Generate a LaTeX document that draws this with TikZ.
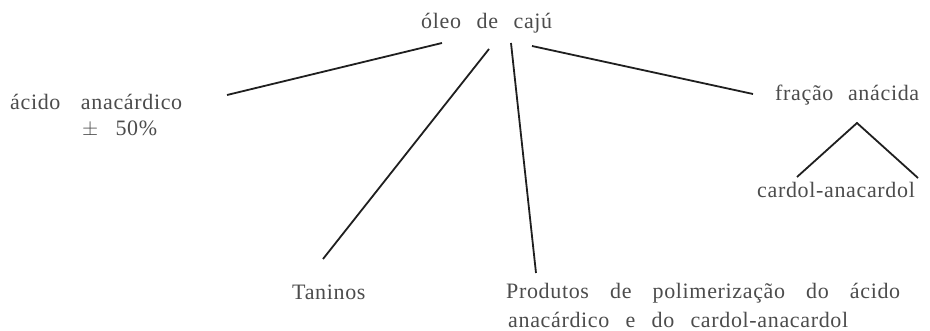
\documentclass[tikz,border=0pt]{standalone}
\usepackage{fontspec}
\setmainfont{Liberation Serif}[LetterSpace=3]
\begin{document}
\begin{tikzpicture}[x=1pt,y=-1pt,
  lbl/.style={inner sep=0pt, text=black!70, font=\fontsize{22}{26}\selectfont, anchor=base west},
  con/.style={draw=black!88, line width=1.8pt}]
\useasboundingbox[fill=white] (0,0) rectangle (930,331);
\node[lbl] (oleo) at (421,29) {\makebox[131pt][s]{óleo de cajú}};
\node[lbl] (acido) at (10,110) {\makebox[172pt][s]{ácido anacárdico}};
\node[lbl] (pm) at (82,136) {\makebox[75pt][s]{$\pm$ 50\%}};
\node[lbl] (fracao) at (775,101) {\makebox[144pt][s]{fração anácida}};
\node[lbl] (cardol) at (757,198) {cardol-anacardol};
\node[lbl] (taninos) at (292,300) {Taninos};
\node[lbl] (prod1) at (506,299) {\makebox[394pt][s]{Produtos de polimerização do ácido}};
\node[lbl] (prod2) at (508,328) {\makebox[340pt][s]{anacárdico e do cardol-anacardol}};
\coordinate (a1) at (227,95);  \coordinate (a2) at (442,43);
\coordinate (t1) at (489,49);  \coordinate (t2) at (323,259);
\coordinate (p1) at (511,43);  \coordinate (p2) at (536,273);
\coordinate (f1) at (532,46);  \coordinate (f2) at (753,94);
\coordinate (c0) at (857,123); \coordinate (c1) at (797,177); \coordinate (c2) at (918,178);
\draw[con] (a1) -- (a2);
\draw[con] (t1) -- (t2);
\draw[con] (p1) -- (p2);
\draw[con] (f1) -- (f2);
\draw[con] (c1) -- (c0) -- (c2);
\end{tikzpicture}
\end{document}
